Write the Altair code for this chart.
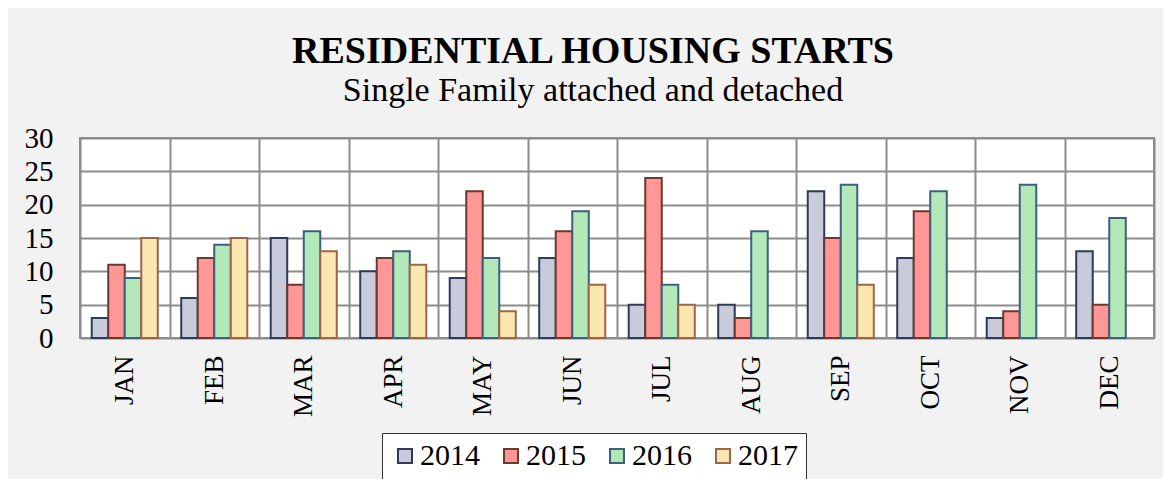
import altair as alt
import pandas as pd

months = ["JAN", "FEB", "MAR", "APR", "MAY", "JUN", "JUL", "AUG", "SEP", "OCT", "NOV", "DEC"]
years = ["2014", "2015", "2016", "2017"]
v2014 = [3, 6, 15, 10, 9, 12, 5, 5, 22, 12, 3, 13]
v2015 = [11, 12, 8, 12, 22, 16, 24, 3, 15, 19, 4, 5]
v2016 = [9, 14, 16, 13, 12, 19, 8, 16, 23, 22, 23, 18]
v2017 = [15, 15, 13, 11, 4, 8, 5, None, 8, None, None, None]

fills = ["#c8cbd9", "#ff9797", "#b3e8b8", "#fbe8b0"]
strokes = ["#2f3b5c", "#6b3a2e", "#3d5f80", "#a0644a"]

rows = []
for yr, vals in zip(years, [v2014, v2015, v2016, v2017]):
    for m, v in zip(months, vals):
        if v is not None:
            rows.append({"month": m, "year": yr, "value": v})
df = pd.DataFrame(rows)

FONT = "Liberation Serif"

legend_opts = dict(title=None, orient="none", direction="horizontal",
                   legendX=302, legendY=295,
                   fillColor="#ffffff", strokeColor="#333333",
                   padding=8, symbolType="square", symbolSize=196,
                   symbolStrokeWidth=2, labelFontSize=30, labelFont=FONT,
                   labelColor="#000", labelOffset=0, columnPadding=16)

chart = alt.Chart(df).mark_bar(strokeWidth=2).encode(
    x=alt.X("month:N", sort=months,
            scale=alt.Scale(paddingInner=0, paddingOuter=0),
            axis=alt.Axis(title=None, labelAngle=270, grid=True, tickBand="extent",
                          ticks=False, domain=False, labelPadding=17,
                          labelFontSize=27, labelFont=FONT, labelColor="#000",
                          gridColor="#8c8c8c", gridWidth=2)),
    xOffset=alt.XOffset("year:N", sort=years,
                        scale=alt.Scale(paddingInner=0, paddingOuter=0.71)),
    y=alt.Y("value:Q", scale=alt.Scale(domain=[0, 30], nice=False),
            axis=alt.Axis(title=None, values=[0, 5, 10, 15, 20, 25, 30], grid=True,
                          ticks=False, domain=False, labelPadding=27,
                          labelFontSize=29, labelFont=FONT, labelColor="#000",
                          gridColor="#8c8c8c", gridWidth=2)),
    color=alt.Color("year:N", sort=years, scale=alt.Scale(domain=years, range=fills),
                    legend=alt.Legend(**legend_opts)),
    stroke=alt.Stroke("year:N", sort=years, scale=alt.Scale(domain=years, range=strokes),
                      legend=alt.Legend(**legend_opts)),
).properties(
    width=1074,
    height=200,
    title=alt.TitleParams(
        text="RESIDENTIAL HOUSING STARTS",
        subtitle="Single Family attached and detached",
        anchor="middle", frame="group", dx=-24,
        font=FONT, fontSize=38, fontWeight="bold", color="#000",
        subtitleFont=FONT, subtitleFontSize=34, subtitleColor="#000",
        subtitlePadding=3, offset=16,
    ),
    autosize=alt.AutoSizeParams(type="none"),
    padding={"left": 72, "top": 130, "right": 9, "bottom": 141},
    background="#f2f2f2",
).configure_view(
    fill="#ffffff", stroke="#8c8c8c", strokeWidth=2
)

chart.save("out.html", embed_options={"renderer": "svg", "actions": False})
